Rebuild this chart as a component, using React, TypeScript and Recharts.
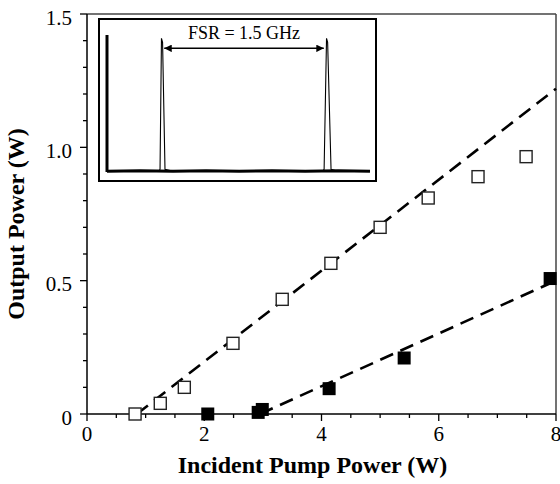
import {
  ComposedChart, LineChart, Line, Scatter, XAxis, YAxis, ReferenceLine,
} from 'recharts';

// main plot: output power vs incident pump power
const openPts = [
  {x: 0.82, y: 0}, {x: 1.25, y: 0.04}, {x: 1.66, y: 0.10}, {x: 2.49, y: 0.265},
  {x: 3.33, y: 0.43}, {x: 4.16, y: 0.565}, {x: 5.0, y: 0.70}, {x: 5.82, y: 0.81},
  {x: 6.67, y: 0.89}, {x: 7.49, y: 0.965},
];
const filledPts = [
  {x: 2.06, y: 0}, {x: 2.92, y: 0.006}, {x: 2.99, y: 0.017}, {x: 4.13, y: 0.095},
  {x: 5.41, y: 0.21}, {x: 7.90, y: 0.508},
];
const openFit = [{x: 0.85, y: 0}, {x: 8, y: 1.22}];
const filledFit = [{x: 2.95, y: 0}, {x: 8, y: 0.5}];

const xTicks = [0, 0.5, 1, 1.5, 2, 2.5, 3, 3.5, 4, 4.5, 5, 5.5, 6, 6.5, 7, 7.5, 8];
const yTicks = [0, 0.1, 0.2, 0.3, 0.4, 0.5, 0.6, 0.7, 0.8, 0.9, 1.0, 1.1, 1.2, 1.3, 1.4, 1.5];

// inset: scope trace, frequency in GHz
const tracePts = [
  {f: 0.0, a: 0.005}, {f: 0.47, a: 0.005}, {f: 0.482, a: 0.02}, {f: 0.495, a: 1.0},
  {f: 0.505, a: 0.97}, {f: 0.527, a: 0.02}, {f: 0.6, a: 0.005}, {f: 1.96, a: 0.005},
  {f: 1.973, a: 0.02}, {f: 1.995, a: 1.0}, {f: 2.005, a: 0.97}, {f: 2.036, a: 0.02},
  {f: 2.1, a: 0.005}, {f: 2.39, a: 0.005},
];
const floorPts = [
  {f: 0.0, a: 0.005}, {f: 0.3, a: 0.01}, {f: 0.6, a: 0.005}, {f: 0.9, a: 0.01},
  {f: 1.2, a: 0.005}, {f: 1.5, a: 0.01}, {f: 1.8, a: 0.005}, {f: 2.1, a: 0.01},
  {f: 2.39, a: 0.005},
];
const fsrArrow = [{x: 0.52, y: 0.925}, {x: 1.97, y: 0.925}];
const fsrText = 'FSR = 1.5 GHz';

const FONT = '"Liberation Serif", "Times New Roman", serif';
const txt = {fontFamily: FONT};

const XTick = ({x, y, payload}: any) => {
  const v = payload.value;
  const major = v % 2 === 0;
  return (
    <g>
      <line x1={x} y1={y} x2={x} y2={y + (major ? 7 : 4)} stroke="#000" strokeWidth={1.3}/>
      {major && (
        <text x={x} y={y + 27} textAnchor="middle" fontSize={21} style={txt} fill="#000">{v}</text>
      )}
    </g>
  );
};

const YTick = ({x, y, payload}: any) => {
  const v = payload.value;
  const major = Math.round(v * 10) % 5 === 0;
  return (
    <g>
      <line x1={x} y1={y} x2={x - (major ? 7 : 4)} y2={y} stroke="#000" strokeWidth={1.3}/>
      {major && (
        <text x={x - 15} y={y + 10.5} textAnchor="end" fontSize={21} style={txt} fill="#000">
          {v === 0 ? '0' : v.toFixed(1)}
        </text>
      )}
    </g>
  );
};

const OpenSquare = (p: any) => (
  <rect x={p.cx - 6} y={p.cy - 6} width={12} height={12} fill="#fff" stroke="#222" strokeWidth={1.4}/>
);
const FilledSquare = (p: any) => (
  <rect x={p.cx - 6.5} y={p.cy - 6.5} width={13} height={13} fill="#000"/>
);

export default function App() {
  return (
    <div style={{position: 'relative', width: 560, height: 484, background: '#fff', fontFamily: FONT}}>
      <style>{'body{margin:0}'}</style>
      <ComposedChart width={560} height={484} margin={{top: 14, right: 4, bottom: 0, left: 0}}>
        <XAxis
          type="number" dataKey="x" domain={[0, 8]} ticks={xTicks} interval={0}
          height={70} tickSize={0} tickMargin={0} tickLine={false} tick={<XTick/>}
          axisLine={{stroke: '#000', strokeWidth: 1.5}}
          label={{
            content: ({viewBox}: any) => (
              <text x={viewBox.x + viewBox.width / 2 - 9} y={viewBox.y + 59} textAnchor="middle"
                    fontSize={24} fontWeight="bold" style={txt} fill="#000">
                Incident Pump Power (W)
              </text>
            ),
          }}
        />
        <YAxis
          type="number" dataKey="y" domain={[0, 1.5]} ticks={yTicks} interval={0}
          width={87} tickSize={0} tickMargin={0} tickLine={false} tick={<YTick/>}
          axisLine={{stroke: '#000', strokeWidth: 1.5}}
          label={{
            content: ({viewBox}: any) => {
              const cx = viewBox.x + 16;
              const cy = viewBox.y + viewBox.height / 2 + 10;
              return (
                <text x={cx} y={cy} transform={`rotate(-90 ${cx} ${cy})`} textAnchor="middle"
                      dominantBaseline="central" fontSize={24} fontWeight="bold" style={txt} fill="#000">
                  Output Power (W)
                </text>
              );
            },
          }}
        />
        <ReferenceLine y={1.5} stroke="#444" strokeWidth={1.5}/>
        <ReferenceLine x={8} stroke="#444" strokeWidth={1.5}/>
        <Scatter data={openPts} dataKey="y" shape={OpenSquare} isAnimationActive={false}/>
        <Scatter data={filledPts} dataKey="y" shape={FilledSquare} isAnimationActive={false}/>
        <Line data={openFit} dataKey="y" stroke="#000" strokeWidth={2.6} strokeDasharray="14 8"
              dot={false} isAnimationActive={false}/>
        <Line data={filledFit} dataKey="y" stroke="#000" strokeWidth={2.6} strokeDasharray="14 8"
              dot={false} isAnimationActive={false}/>
      </ComposedChart>

      <div style={{position: 'absolute', left: 98, top: 18, width: 279, height: 164}}>
        <LineChart width={279} height={164} margin={{top: 17, right: 7, bottom: 10, left: 0}}>
          <defs>
            <marker id="ah" viewBox="0 0 10 10" refX="10" refY="5" markerWidth="5" markerHeight="5"
                    orient="auto-start-reverse">
              <path d="M0,0 L10,5 L0,10 z" fill="#000"/>
            </marker>
          </defs>
          <XAxis type="number" dataKey="f" domain={[0, 2.39]} hide/>
          <YAxis type="number" domain={[0, 1.025]} width={9} tick={false} tickLine={false}
                 axisLine={{stroke: '#000', strokeWidth: 3}}/>
          <Line data={floorPts} dataKey="a" stroke="#000" strokeWidth={3} dot={false}
                isAnimationActive={false}/>
          <Line data={tracePts} dataKey="a" stroke="#000" strokeWidth={1.1} dot={false}
                type="linear" isAnimationActive={false}/>
          <ReferenceLine segment={fsrArrow} stroke="#000" strokeWidth={1.5}
                         markerStart="url(#ah)" markerEnd="url(#ah)"
                         label={{value: fsrText, position: 'top', offset: 9, fontSize: 18,
                                 fontFamily: FONT, fill: '#000'}}/>
        </LineChart>
        <div style={{position: 'absolute', inset: 0, border: '2px solid #000', boxSizing: 'border-box',
                     pointerEvents: 'none'}}/>
      </div>
    </div>
  );
}
